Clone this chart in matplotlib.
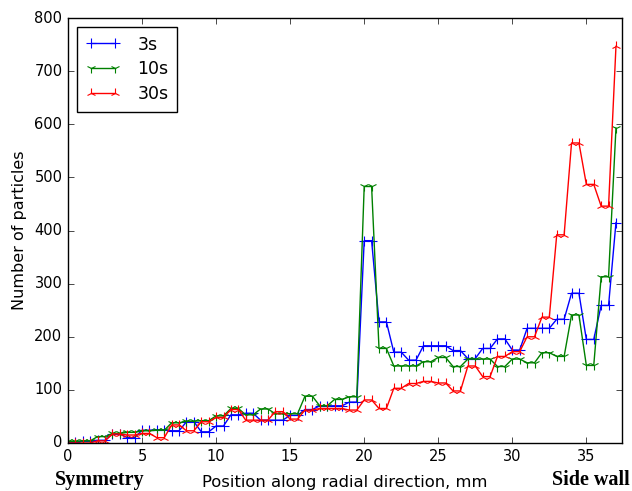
import matplotlib
matplotlib.use("Agg")
import matplotlib.pyplot as plt
import numpy as np

# bin start positions along the radius (mm), one value per bin
bins = np.arange(38)
n_3s = [1, 4, 5, 17, 10, 24, 25, 23, 40, 21, 32, 53, 56, 43, 43, 52, 63, 70, 70, 77,
        381, 228, 171, 156, 183, 183, 174, 159, 178, 196, 175, 216, 216, 233, 282, 195, 259, 415]
n_10s = [3, 4, 12, 18, 20, 23, 24, 38, 41, 42, 51, 65, 53, 64, 55, 55, 88, 70, 82, 87,
         483, 178, 145, 145, 153, 161, 144, 158, 158, 144, 158, 151, 170, 163, 241, 146, 313, 593]
n_30s = [0, 0, 4, 17, 15, 18, 10, 34, 23, 40, 48, 63, 43, 43, 59, 45, 62, 65, 65, 62,
         81, 65, 103, 112, 116, 113, 98, 145, 125, 163, 172, 200, 237, 392, 565, 487, 446, 747]
labels = ["3s", "10s", "30s"]
colors = ["b", "g", "r"]
markers = ["+", "1", "2"]
bin_w = 0.5


def steps(x, y):
    # each bin drawn as a short flat segment, last bin a single point
    xs, ys = [], []
    for xi, yi in zip(x[:-1], y[:-1]):
        xs += [xi, xi + bin_w]
        ys += [yi, yi]
    xs.append(x[-1])
    ys.append(y[-1])
    return xs, ys


plt.style.use("classic")
fig = plt.figure(figsize=(6.32, 4.91), dpi=100, facecolor="white")
ax = fig.add_axes([0.1076, 0.0978, 0.8764, 0.8652])

for data, lab, c, m in zip([n_3s, n_10s, n_30s], labels, colors, markers):
    xs, ys = steps(bins, data)
    ax.plot(xs, ys, color=c, marker=m, markersize=7, markeredgewidth=0.8,
            markeredgecolor=c, linewidth=1, label=lab)

ax.set_xlim(0, 37.4)
ax.set_ylim(0, 800)
ax.tick_params(labelsize=10.5)
ax.set_ylabel("Number of particles", fontsize=11.5)
ax.set_xlabel("Position along radial direction, mm", fontsize=11.8, labelpad=8)
ax.legend(loc="upper left", fontsize=12.5, numpoints=2, handlelength=2.0,
          handletextpad=1.0, labelspacing=0.4, borderpad=0.5, fancybox=False)

fig.text(0.087, 0.003, "Symmetry", family="Liberation Serif", weight="bold",
         fontsize=14.5, ha="left", va="bottom")
fig.text(0.997, 0.003, "Side wall", family="Liberation Serif", weight="bold",
         fontsize=14.5, ha="right", va="bottom")

fig.savefig("out.png", dpi=100, facecolor="white")
